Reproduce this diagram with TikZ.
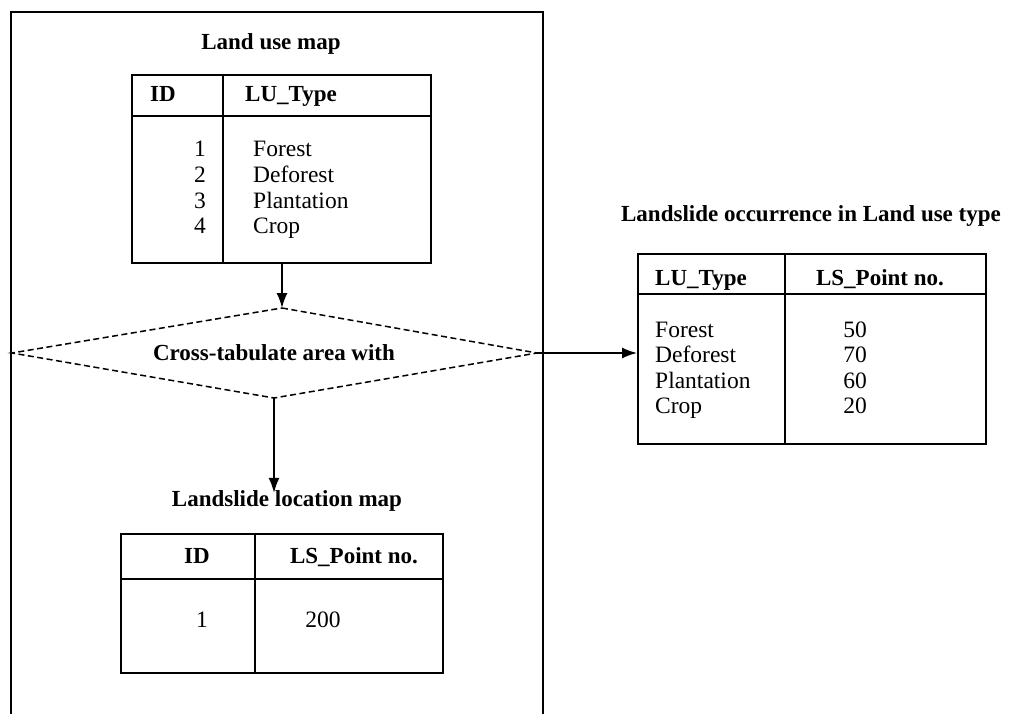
\documentclass[tikz,border=0pt]{standalone}
\usepackage{fontspec}
\setmainfont{Liberation Serif}
\usetikzlibrary{arrows.meta, positioning}

\tikzset{
  tbl/.style={draw, line width=1.9pt, inner sep=0pt, anchor=north west},
  rule/.style={line width=1.9pt},
  ttl/.style={font=\bfseries\fontsize{23}{26}\selectfont, inner sep=0pt, anchor=base},
  txt/.style={font=\fontsize{23.5}{25.5}\selectfont, inner sep=0pt, anchor=base west},
  flow/.style={->, line width=1.6pt},
  dash line/.style={line width=1.5pt, dash pattern=on 6pt off 3.5pt},
}

\begin{document}
\begin{tikzpicture}[x=1pt, y=-1pt, >={Latex[length=15pt,width=11pt]}]
  \useasboundingbox[fill=white] (0,0) rectangle (1011,714);
  % frame round the left part
  \draw[rule] (11,720) -- (11,12) -- (543,12) -- (543,720);
  % land use map
  \node[ttl] (lutitle) at (271,50) {Land use map};
  \node[tbl, minimum width=299pt, minimum height=188pt] (lu) at (131,74) {};
  \draw[rule] (lu.west |- 0,116) -- (lu.east |- 0,116); \draw[rule] (lu.north -| 223,0) -- (lu.south -| 223,0);
  \node[ttl, anchor=base west] (luid) at (150,102) {ID}; \node[ttl, anchor=base west] (lutype) at (245,102) {LU\_Type};
  \node[txt, anchor=base east] (n1) at (206,157) {1};   \node[txt] (t1) at (253,157) {Forest};
  \node[txt, anchor=base east] (n2) at (206,182.5) {2}; \node[txt] (t2) at (253,182.5) {Deforest};
  \node[txt, anchor=base east] (n3) at (206,208) {3};   \node[txt] (t3) at (253,208) {Plantation};
  \node[txt, anchor=base east] (n4) at (206,233.5) {4}; \node[txt] (t4) at (253,233.5) {Crop};
  % decision
  \coordinate (dtop) at (282,308); \coordinate (dright) at (537,353);
  \coordinate (dbot) at (274,398); \coordinate (dleft) at (12,353);
  \draw[dash line] (dtop) -- (dright) -- (dbot) -- (dleft) -- cycle;
  \node[ttl] (cross) at (274,360) {Cross-tabulate area with};
  % landslide location map
  \node[ttl] (lltitle) at (287,506) {Landslide location map};
  \node[tbl, minimum width=322pt, minimum height=139pt] (loc) at (120,533) {};
  \draw[rule] (loc.west |- 0,579) -- (loc.east |- 0,579); \draw[rule] (loc.north -| 255,0) -- (loc.south -| 255,0);
  \node[ttl] (locid) at (197,563) {ID}; \node[ttl] (locpt) at (354,563) {LS\_Point no.};
  \node[txt, anchor=base] (loc1) at (202,627) {1}; \node[txt, anchor=base] (loc2) at (323,627) {200};
  % landslide occurrence
  \node[ttl] (occtitle) at (811,221) {Landslide occurrence in Land use type};
  \node[tbl, minimum width=348pt, minimum height=190pt] (occ) at (637,253) {};
  \draw[rule] (occ.west |- 0,294) -- (occ.east |- 0,294); \draw[rule] (occ.north -| 785,0) -- (occ.south -| 785,0);
  \node[ttl, anchor=base west] (occtype) at (655,285) {LU\_Type}; \node[ttl] (occpt) at (880,285) {LS\_Point no.};
  \node[txt] (o1) at (655,337) {Forest};     \node[txt, anchor=base] (p1) at (855,337) {50};
  \node[txt] (o2) at (655,362.5) {Deforest}; \node[txt, anchor=base] (p2) at (855,362.5) {70};
  \node[txt] (o3) at (655,388) {Plantation}; \node[txt, anchor=base] (p3) at (855,388) {60};
  \node[txt] (o4) at (655,413.5) {Crop};     \node[txt, anchor=base] (p4) at (855,413.5) {20};
  % arrows
  \draw[flow] (lu.south -| dtop) -- (dtop);
  \draw[flow] (dbot) -- ([yshift=-3pt]lltitle.north -| dbot);
  \draw[flow] (dright) -- (occ.west |- dright);
\end{tikzpicture}
\end{document}
